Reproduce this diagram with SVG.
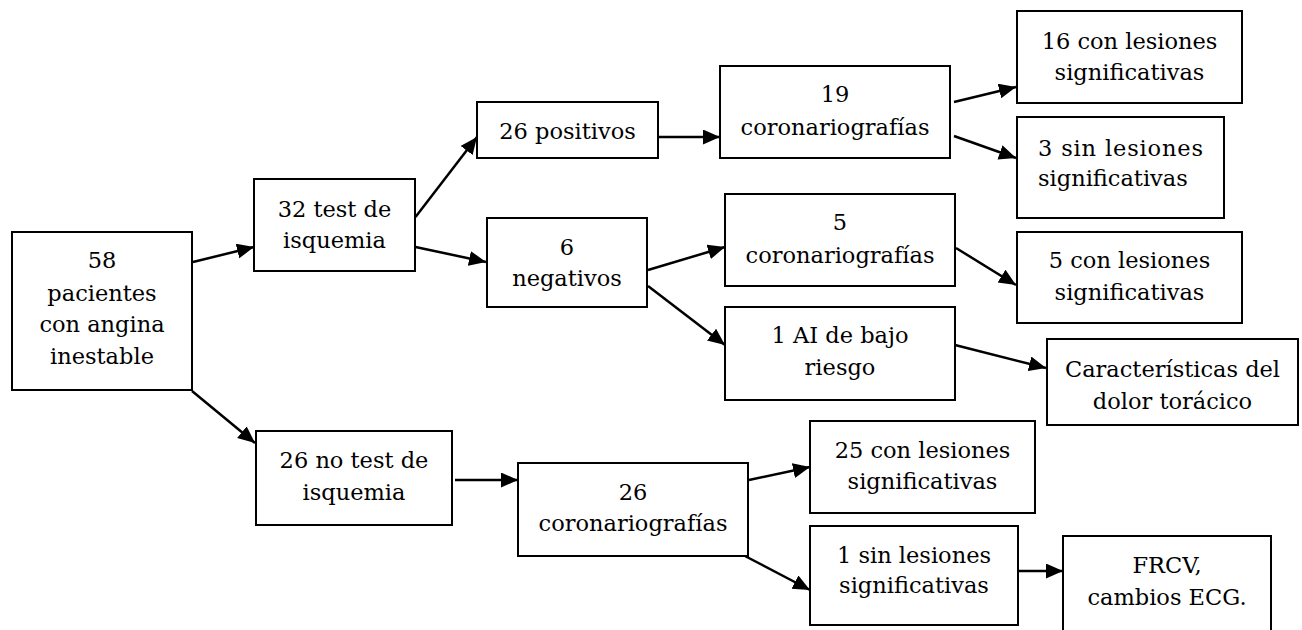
<svg xmlns="http://www.w3.org/2000/svg" width="1302" height="630" viewBox="0 0 1302 630">
<style>
.box{fill:#fff;stroke:#000;stroke-width:2}
.t{font-family:"DejaVu Serif","Liberation Serif",serif;font-size:22.5px;fill:#000;text-anchor:middle}
.ts{font-family:"DejaVu Serif","Liberation Serif",serif;font-size:22.5px;fill:#000;text-anchor:start}
.c{stroke:#000;stroke-width:2.5;fill:none;marker-end:url(#ah)}
</style>
<defs>
<marker id="ah" markerUnits="userSpaceOnUse" markerWidth="18" markerHeight="16" refX="17" refY="7.5" orient="auto">
<path d="M0,0 L17,7.5 L0,15 z" fill="#000"/>
</marker>
</defs>
<rect width="1302" height="630" fill="#fff"/>
<g id="connectors">
<line class="c" x1="193" y1="262" x2="254" y2="247"/>
<line class="c" x1="192" y1="391" x2="255" y2="443"/>
<line class="c" x1="415.5" y1="217" x2="477" y2="137"/>
<line class="c" x1="415.5" y1="247" x2="486" y2="262"/>
<line class="c" x1="658" y1="137" x2="720" y2="137"/>
<line class="c" x1="954" y1="102" x2="1016" y2="87"/>
<line class="c" x1="954" y1="136" x2="1016" y2="158"/>
<line class="c" x1="648" y1="270" x2="725" y2="247"/>
<line class="c" x1="648" y1="286" x2="725" y2="345"/>
<line class="c" x1="956" y1="248" x2="1016" y2="285"/>
<line class="c" x1="955" y1="345" x2="1046" y2="368"/>
<line class="c" x1="455" y1="480" x2="518" y2="480"/>
<line class="c" x1="749" y1="480" x2="810" y2="467"/>
<line class="c" x1="745" y1="556" x2="810" y2="590"/>
<line class="c" x1="1018" y1="571" x2="1063" y2="571"/>
</g>
<g id="n58">
<rect class="box" x="12" y="232" width="180" height="158"/>
<text class="t" x="102" y="268">58</text>
<text class="t" x="102" y="301">pacientes</text>
<text class="t" x="102" y="332">con angina</text>
<text class="t" x="102" y="364">inestable</text>
</g>
<g id="n32">
<rect class="box" x="254" y="179" width="161" height="92"/>
<text class="t" x="334.5" y="217">32 test de</text>
<text class="t" x="334.5" y="248">isquemia</text>
</g>
<g id="n26pos">
<rect class="box" x="477" y="102" width="181" height="56"/>
<text class="t" x="567.5" y="139">26 positivos</text>
</g>
<g id="n19">
<rect class="box" x="720" y="66" width="230" height="92"/>
<text class="t" x="835" y="102">19</text>
<text class="t" x="835" y="135">coronariografías</text>
</g>
<g id="n16con">
<rect class="box" x="1017" y="11" width="225" height="92"/>
<text class="t" x="1129.5" y="49">16 con lesiones</text>
<text class="t" x="1129.5" y="80">significativas</text>
</g>
<g id="n3sin">
<rect class="box" x="1017" y="117" width="207" height="101"/>
<text class="ts" x="1038" y="156" textLength="165" lengthAdjust="spacing">3 sin lesiones</text>
<text class="ts" x="1038" y="186">significativas</text>
</g>
<g id="n6neg">
<rect class="box" x="487" y="218" width="160" height="89"/>
<text class="t" x="567" y="255">6</text>
<text class="t" x="567" y="286">negativos</text>
</g>
<g id="n5cor">
<rect class="box" x="725" y="194" width="230" height="92"/>
<text class="t" x="840" y="230">5</text>
<text class="t" x="840" y="263">coronariografías</text>
</g>
<g id="n5con">
<rect class="box" x="1017" y="232" width="225" height="91"/>
<text class="t" x="1129.5" y="268">5 con lesiones</text>
<text class="t" x="1129.5" y="300">significativas</text>
</g>
<g id="n1ai">
<rect class="box" x="725" y="307" width="230" height="93"/>
<text class="t" x="840" y="343">1 AI de bajo</text>
<text class="t" x="840" y="375">riesgo</text>
</g>
<g id="ncar">
<rect class="box" x="1047" y="339" width="251" height="86"/>
<text class="t" x="1172.5" y="377">Características del</text>
<text class="t" x="1172.5" y="409">dolor torácico</text>
</g>
<g id="n26no">
<rect class="box" x="256" y="431" width="196" height="94"/>
<text class="t" x="354" y="468">26 no test de</text>
<text class="t" x="354" y="500">isquemia</text>
</g>
<g id="n26cor">
<rect class="box" x="518" y="463" width="230" height="93"/>
<text class="t" x="633" y="500">26</text>
<text class="t" x="633" y="531">coronariografías</text>
</g>
<g id="n25con">
<rect class="box" x="810" y="421" width="225" height="92"/>
<text class="t" x="922.5" y="458">25 con lesiones</text>
<text class="t" x="922.5" y="489">significativas</text>
</g>
<g id="n1sin">
<rect class="box" x="810" y="526" width="208" height="99"/>
<text class="t" x="914" y="563">1 sin lesiones</text>
<text class="t" x="914" y="593">significativas</text>
</g>
<g id="nfrcv">
<rect class="box" x="1063" y="536" width="208" height="110"/>
<text class="t" x="1167" y="573">FRCV,</text>
<text class="t" x="1167" y="605">cambios ECG.</text>
</g>
</svg>
